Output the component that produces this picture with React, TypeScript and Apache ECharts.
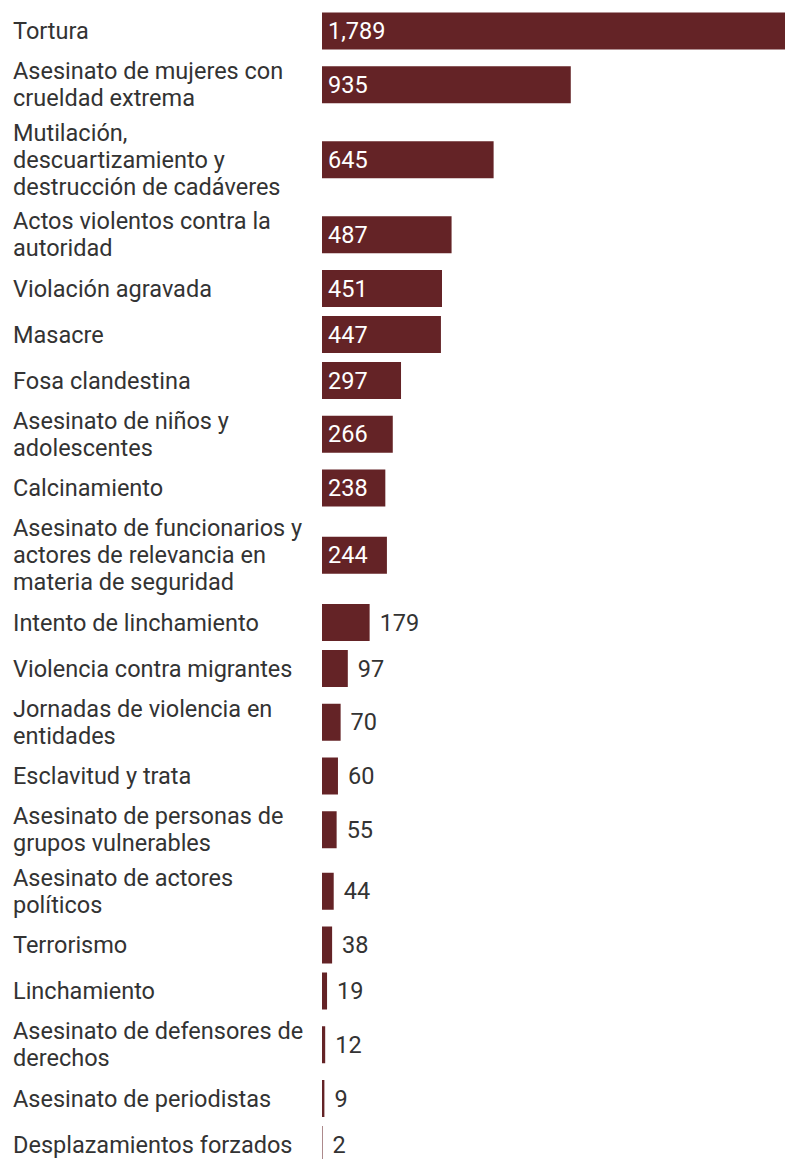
import React, { useEffect, useRef } from "react";
import * as echarts from "echarts";

const categories: string[] = [
  "Tortura",
  "Asesinato de mujeres con\ncrueldad extrema",
  "Mutilación,\ndescuartizamiento y\ndestrucción de cadáveres",
  "Actos violentos contra la\nautoridad",
  "Violación agravada",
  "Masacre",
  "Fosa clandestina",
  "Asesinato de niños y\nadolescentes",
  "Calcinamiento",
  "Asesinato de funcionarios y\nactores de relevancia en\nmateria de seguridad",
  "Intento de linchamiento",
  "Violencia contra migrantes",
  "Jornadas de violencia en\nentidades",
  "Esclavitud y trata",
  "Asesinato de personas de\ngrupos vulnerables",
  "Asesinato de actores\npolíticos",
  "Terrorismo",
  "Linchamiento",
  "Asesinato de defensores de\nderechos",
  "Asesinato de periodistas",
  "Desplazamientos forzados",
];

const values: number[] = [
  1789, 935, 645, 487, 451, 447, 297, 266, 238, 244, 179, 97, 70, 60, 55, 44, 38, 19, 12, 9, 2,
];

const BAR_COLOR = "#642326";
const TEXT_COLOR = "#333333";
const FONT = "Roboto";
const FONT_SIZE = 23.5;

export default function App() {
  const ref = useRef<HTMLDivElement>(null);

  useEffect(() => {
    if (!ref.current) return;
    const chart = echarts.init(ref.current, null, { renderer: "svg" });

    // Row layout derived from the number of lines in each label
    const lineH = 27;
    const rowHeights = categories.map((c) => Math.max(46, c.split("\n").length * lineH + 7.5));
    const centers: number[] = [];
    let acc = 0;
    rowHeights.forEach((h) => {
      centers.push(acc + h / 2);
      acc += h;
    });
    const total = acc;

    const data = values.map((v, i) => [v, centers[i], i]);

    const findLabel = (val: number) => {
      let best = 0;
      let bd = Infinity;
      centers.forEach((c, i) => {
        const d = Math.abs(c - val);
        if (d < bd) {
          bd = d;
          best = i;
        }
      });
      return categories[best];
    };

    chart.setOption({
      animation: false,
      backgroundColor: "#ffffff",
      grid: {
        left: 322,
        right: -13,
        top: 8,
        height: total,
        containLabel: false,
        outerBoundsMode: "none",
      },
      xAxis: {
        type: "value",
        min: 0,
        max: 1789,
        show: false,
      },
      yAxis: {
        type: "value",
        inverse: true,
        min: 0,
        max: total,
        axisLine: { show: false },
        axisTick: { show: false },
        splitLine: { show: false },
        axisLabel: {
          customValues: centers,
          formatter: (val: number) => findLabel(val),
          align: "left",
          margin: 309,
          fontSize: FONT_SIZE,
          lineHeight: lineH,
          color: TEXT_COLOR,
          fontFamily: FONT,
          hideOverlap: false,
        },
      },
      series: [
        {
          type: "custom",
          data,
          encode: { x: 0, y: 1 },
          renderItem: (params: any, api: any) => {
            const v = api.value(0);
            const c = api.value(1);
            const s = api.coord([0, c]);
            const e = api.coord([v, c]);
            const inside = v >= 200;
            const barH = 37;
            return {
              type: "group",
              children: [
                {
                  type: "rect",
                  shape: { x: s[0], y: s[1] - barH / 2, width: e[0] - s[0], height: barH },
                  style: { fill: BAR_COLOR },
                },
                {
                  type: "text",
                  style: {
                    text: v.toLocaleString("en-US"),
                    x: inside ? s[0] + 6 : e[0] + 10,
                    y: s[1],
                    align: "left",
                    verticalAlign: "middle",
                    fill: inside ? "#ffffff" : TEXT_COLOR,
                    fontSize: FONT_SIZE,
                    fontFamily: FONT,
                  },
                },
              ],
            };
          },
        },
      ],
    });

    return () => {
      chart.dispose();
    };
  }, []);

  return (
    <div
      ref={ref}
      style={{ position: "absolute", left: 0, top: 0, width: 785, height: 1159 }}
    />
  );
}
